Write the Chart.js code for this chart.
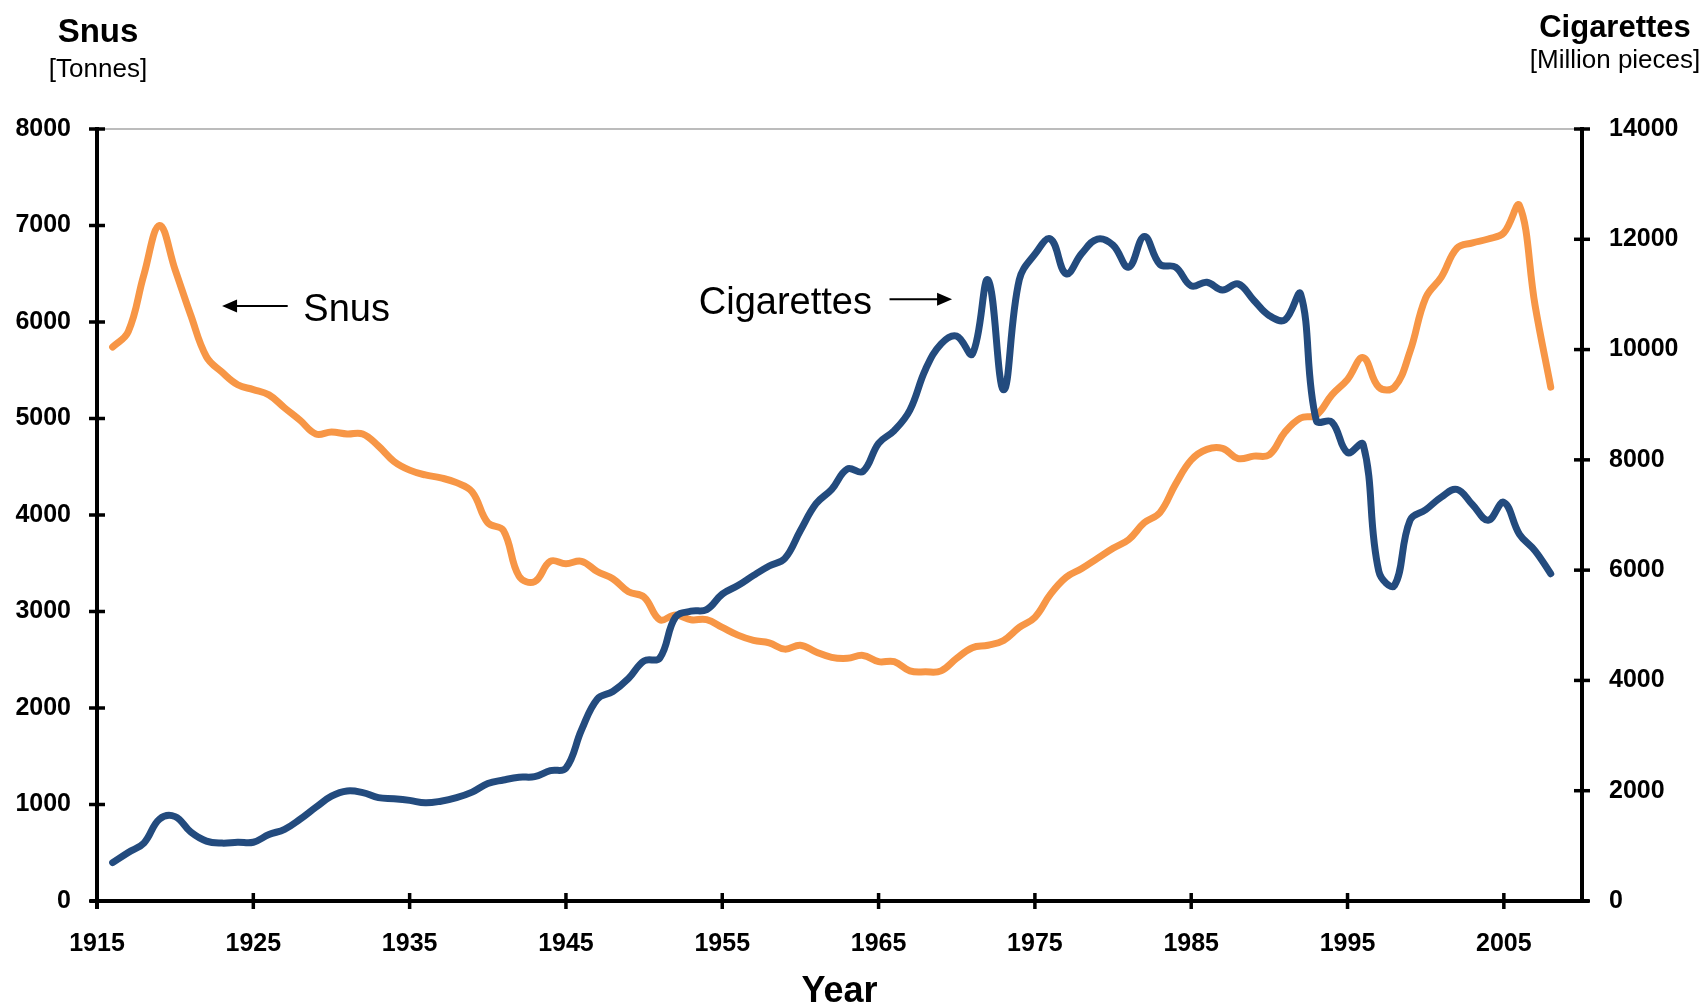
<!DOCTYPE html>
<html lang="en">
<head>
<meta charset="UTF-8">
<title>Snus and cigarettes</title>
<script src="https://cdn.jsdelivr.net/npm/chart.js"></script>
<style>
  body { margin: 0; background: #fff; }
  #wrap { width: 1706px; height: 1005px; }
</style>
</head>
<body>
<div id="wrap"><canvas id="chart" width="1706" height="1005"></canvas></div>
<script>
// yearly values
const years = [
  1916, 1917, 1918, 1919, 1920, 1921, 1922, 1923, 1924, 1925,
  1926, 1927, 1928, 1929, 1930, 1931, 1932, 1933, 1934, 1935,
  1936, 1937, 1938, 1939, 1940, 1941, 1942, 1943, 1944, 1945,
  1946, 1947, 1948, 1949, 1950, 1951, 1952, 1953, 1954, 1955,
  1956, 1957, 1958, 1959, 1960, 1961, 1962, 1963, 1964, 1965,
  1966, 1967, 1968, 1969, 1970, 1971, 1972, 1973, 1974, 1975,
  1976, 1977, 1978, 1979, 1980, 1981, 1982, 1983, 1984, 1985,
  1986, 1987, 1988, 1989, 1990, 1991, 1992, 1993, 1994, 1995,
  1996, 1997, 1998, 1999, 2000, 2001, 2002, 2003, 2004, 2005,
  2006, 2007, 2008
];

// Snus, tonnes (left axis)
const snus = [
  5740, 5900, 6490, 7000, 6540, 6070, 5640, 5480, 5350, 5300,
  5245, 5110, 4980, 4840, 4860, 4840, 4840, 4715, 4555, 4465,
  4415, 4385, 4335, 4240, 3920, 3840, 3365, 3310, 3520, 3495,
  3520, 3415, 3340, 3205, 3150, 2915, 2965, 2915, 2915, 2835,
  2755, 2700, 2675, 2610, 2650, 2580, 2525, 2515, 2545, 2480,
  2480, 2385, 2375, 2385, 2515, 2625, 2650, 2700, 2835, 2940,
  3180, 3355, 3445, 3550, 3655, 3745, 3920, 4025, 4320, 4570,
  4680, 4690, 4585, 4610, 4625, 4860, 5005, 5035, 5245, 5405,
  5630, 5325, 5325, 5695, 6250, 6465, 6765, 6820, 6860, 6925,
  7205, 6170, 5325
];

// Cigarettes, million pieces (right axis)
const cigarettes = [
  695, 880, 1050, 1485, 1530, 1250, 1085, 1050, 1065, 1065,
  1205, 1300, 1485, 1700, 1900, 1995, 1965, 1875, 1855, 1825,
  1780, 1810, 1875, 1975, 2130, 2195, 2245, 2255, 2365, 2410,
  3105, 3660, 3800, 4035, 4355, 4405, 5145, 5255, 5285, 5565,
  5720, 5905, 6075, 6210, 6720, 7205, 7465, 7835, 7790, 8300,
  8530, 8900, 9640, 10105, 10245, 9920, 11265, 9270, 11265, 11730,
  12005, 11375, 11745, 12005, 11895, 11495, 12050, 11545, 11495, 11155,
  11220, 11080, 11190, 10895, 10615, 10540, 11005, 8715, 8685, 8130,
  8280, 5980, 5720, 6905, 7095, 7325, 7465, 7185, 6905, 7230,
  6650, 6350, 5935
];

const xTicks = [1915, 1925, 1935, 1945, 1955, 1965, 1975, 1985, 1995, 2005];

const FONT = '"Liberation Sans", Arial, Helvetica, sans-serif';

// label arrows, placed in data coordinates (year, snus tonnes)
const notes = [
  { text: 'Snus', x: 1928.2, y: 6010, from: 1927.2, to: 1923.0, ay: 6165 },
  { text: 'Cigarettes', x: 1953.5, y: 6085, from: 1965.7, to: 1969.7, ay: 6235 }
];

function pts(vals) {
  return years.map((yr, i) => ({ x: yr, y: vals[i] }));
}

const frame = {
  id: 'frame',
  afterDraw(chart) {
    const { ctx, chartArea: a, scales } = chart;
    const sx = scales.x, yl = scales.ySnus, yr = scales.yCig;
    const seg = (x1, y1, x2, y2) => {
      ctx.beginPath(); ctx.moveTo(x1, y1); ctx.lineTo(x2, y2); ctx.stroke();
    };
    ctx.save();

    // thin top border
    ctx.strokeStyle = '#a6a6a6';
    ctx.lineWidth = 1.5;
    seg(a.left, a.top, a.right, a.top);

    // axes
    ctx.strokeStyle = '#000';
    ctx.lineWidth = 4;
    seg(a.left, a.top - 2, a.left, a.bottom + 8);
    seg(a.right, a.top - 2, a.right, a.bottom);
    seg(a.left - 7, a.bottom, a.right + 7, a.bottom);

    // crossing tick marks
    ctx.lineWidth = 3.5;
    yl.ticks.forEach(t => {
      const p = yl.getPixelForValue(t.value);
      seg(a.left - 8, p, a.left + 8, p);
    });
    yr.ticks.forEach(t => {
      const p = yr.getPixelForValue(t.value);
      seg(a.right - 8, p, a.right + 8, p);
    });
    sx.ticks.forEach(t => {
      const p = sx.getPixelForValue(t.value);
      seg(p, a.bottom - 8, p, a.bottom + 8);
    });

    // annotations
    ctx.fillStyle = '#000';
    ctx.lineWidth = 2;
    ctx.textAlign = 'left';
    ctx.textBaseline = 'alphabetic';
    ctx.font = '38px ' + FONT;
    notes.forEach(n => {
      ctx.fillText(n.text, sx.getPixelForValue(n.x), yl.getPixelForValue(n.y));
      const x1 = sx.getPixelForValue(n.from), x2 = sx.getPixelForValue(n.to);
      const y = yl.getPixelForValue(n.ay);
      const dir = Math.sign(x2 - x1);
      seg(x1, y, x2 - dir * 10, y);
      ctx.beginPath();
      ctx.moveTo(x2, y);
      ctx.lineTo(x2 - dir * 15, y - 6.5);
      ctx.lineTo(x2 - dir * 15, y + 6.5);
      ctx.closePath();
      ctx.fill();
    });

    // axis titles
    ctx.textAlign = 'center';
    ctx.font = 'bold 33px ' + FONT;
    ctx.fillText('Snus', 98, 42);
    ctx.font = '26px ' + FONT;
    ctx.fillText('[Tonnes]', 98, 77);
    ctx.font = 'bold 31px ' + FONT;
    ctx.fillText('Cigarettes', 1615, 37);
    ctx.font = '26px ' + FONT;
    ctx.fillText('[Million pieces]', 1615, 68);
    ctx.font = 'bold 36px ' + FONT;
    ctx.fillText('Year', (a.left + a.right) / 2, 1002);

    ctx.restore();
  }
};

const tickFont = { family: FONT, size: 25, weight: 'bold' };

new Chart(document.getElementById('chart'), {
  type: 'line',
  data: {
    datasets: [
      {
        label: 'Cigarettes',
        data: pts(cigarettes),
        yAxisID: 'yCig',
        borderColor: '#234b7e',
        borderWidth: 7,
        tension: 0.4,
        pointRadius: 0,
        borderCapStyle: 'round',
        borderJoinStyle: 'round',
        fill: false
      },
      {
        label: 'Snus',
        data: pts(snus),
        yAxisID: 'ySnus',
        borderColor: '#f79646',
        borderWidth: 7,
        tension: 0.4,
        pointRadius: 0,
        borderCapStyle: 'round',
        borderJoinStyle: 'round',
        fill: false
      }
    ]
  },
  options: {
    responsive: false,
    animation: false,
    layout: { padding: { top: 129, left: 0, right: 0, bottom: 0 } },
    plugins: { legend: { display: false }, tooltip: { enabled: false } },
    scales: {
      x: {
        type: 'linear',
        min: 1915,
        max: 2010,
        grid: { display: false, drawTicks: false },
        border: { display: false },
        afterBuildTicks: s => { s.ticks = xTicks.map(v => ({ value: v })); },
        afterFit: s => { s.height = 104; },
        ticks: {
          color: '#000',
          font: tickFont,
          padding: 28,
          autoSkip: false,
          maxRotation: 0,
          callback: v => String(v)
        }
      },
      ySnus: {
        position: 'left',
        min: 0,
        max: 8000,
        grid: { display: false, drawTicks: false },
        border: { display: false },
        afterFit: s => { s.width = 97; },
        ticks: {
          stepSize: 1000,
          color: '#000',
          font: tickFont,
          padding: 26,
          callback: v => String(v)
        }
      },
      yCig: {
        position: 'right',
        min: 0,
        max: 14000,
        grid: { display: false, drawTicks: false },
        border: { display: false },
        afterFit: s => { s.width = 124; },
        ticks: {
          stepSize: 2000,
          color: '#000',
          font: tickFont,
          padding: 27,
          callback: v => String(v)
        }
      }
    }
  },
  plugins: [frame]
});
</script>
</body>
</html>
